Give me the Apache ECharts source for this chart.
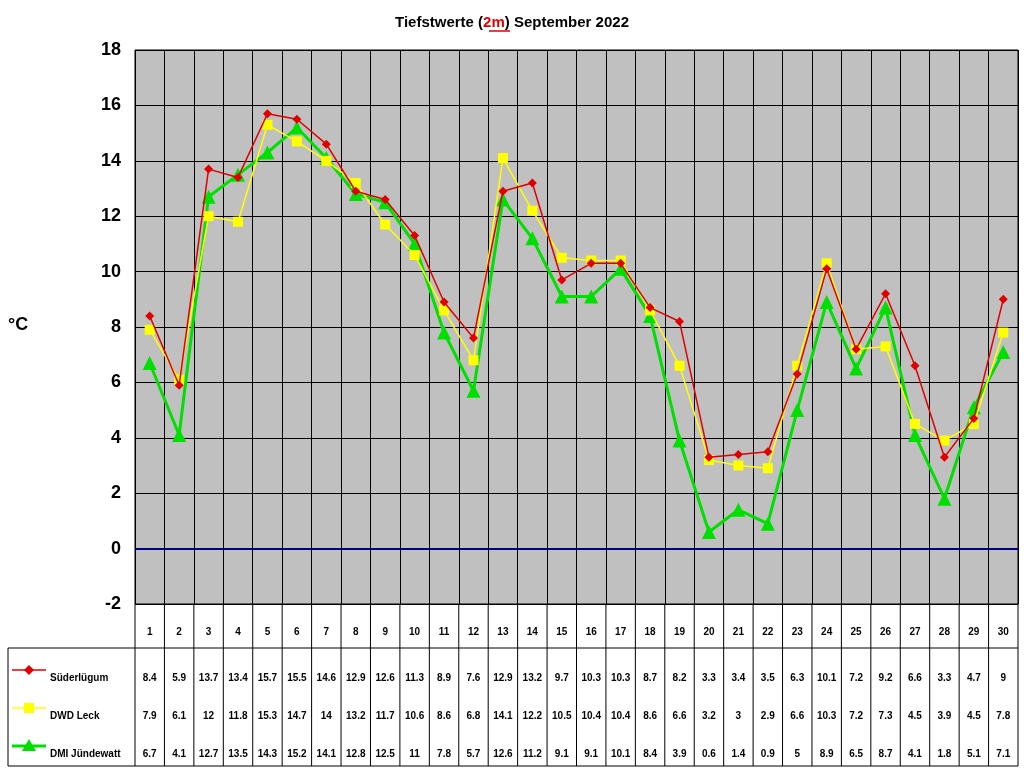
<!DOCTYPE html><html><head><meta charset="utf-8"><script src="https://cdn.jsdelivr.net/npm/echarts@6/dist/echarts.min.js"></script>
<style>body{margin:0;background:#fff}#c{width:1024px;height:768px}</style></head><body><div id="c"></div><script>
const days=[];for(let i=1;i<=30;i++)days.push(String(i));
const suederluegum=[8.4,5.9,13.7,13.4,15.7,15.5,14.6,12.9,12.6,11.3,8.9,7.6,12.9,13.2,9.7,10.3,10.3,8.7,8.2,3.3,3.4,3.5,6.3,10.1,7.2,9.2,6.6,3.3,4.7,9];
const dwdLeck=[7.9,6.1,12,11.8,15.3,14.7,14,13.2,11.7,10.6,8.6,6.8,14.1,12.2,10.5,10.4,10.4,8.6,6.6,3.2,3,2.9,6.6,10.3,7.2,7.3,4.5,3.9,4.5,7.8];
const dmiJuendewatt=[6.7,4.1,12.7,13.5,14.3,15.2,14.1,12.8,12.5,11,7.8,5.7,12.6,11.2,9.1,9.1,10.1,8.4,3.9,0.6,1.4,0.9,5,8.9,6.5,8.7,4.1,1.8,5.1,7.1];
const names=['Süderlügum','DWD Leck','DMI Jündewatt'];
const colors=['#E00000','#FFFF00','#00E000'];
const symbols=['diamond','rect','triangle'];
const sizes=[9,10,14];
const all=[suederluegum,dwdLeck,dmiJuendewatt];
const chart=echarts.init(document.getElementById('c'));
const L=135,R=1018,T=50,B=604;
chart.setOption({
 animation:false,
 title:{text:'{a|Tiefstwerte (}{b|2m}{a|) September 2022}',left:'center',top:10,textStyle:{rich:{a:{fontSize:15,fontWeight:'bold',fontFamily:'Liberation Sans',color:'#000'},b:{fontSize:15,fontWeight:'bold',fontFamily:'Liberation Sans',color:'#E00000'}}}},
 grid:{left:L,right:1024-R,top:T,bottom:768-B,backgroundColor:'#C0C0C0',show:true,borderColor:'#000',borderWidth:1},
 xAxis:{type:'category',data:days,boundaryGap:true,axisLabel:{show:false},axisTick:{show:false},axisLine:{show:false},splitLine:{show:true,lineStyle:{color:'#000',width:1}}},
 yAxis:{type:'value',min:-2,max:18,interval:2,axisLabel:{fontSize:18,fontWeight:'bold',color:'#000',fontFamily:'Liberation Sans',margin:14},axisLine:{show:false},axisTick:{show:false},splitLine:{lineStyle:{color:'#000',width:1}}},
 series:all.map((d,i)=>({name:names[i],type:'line',data:d,symbol:symbols[i],symbolSize:sizes[i],lineStyle:{color:colors[i],width:i==2?3:1.5},itemStyle:{color:colors[i]},z:3-i+2,
   markLine:i==0?{silent:true,symbol:'none',label:{show:false},lineStyle:{color:'#000080',width:2,type:'solid'},data:[{yAxis:0}]}:undefined}))
});
const g=[];
g.push({type:'text',left:8,top:316,style:{text:'°C',fontSize:18,fontWeight:'bold',fontFamily:'Liberation Sans',fill:'#000'}});
g.push({type:'line',shape:{x1:489,y1:31,x2:510,y2:31},style:{stroke:'#E00000',lineWidth:1.5}});
const cw=(R-L)/30;
const rowsY=[678,716,754];
for(let k=0;k<=30;k++){const x=L+k*cw;g.push({type:'line',shape:{x1:x,y1:B,x2:x,y2:766},style:{stroke:'#000',lineWidth:1}});}
g.push({type:'line',shape:{x1:8,y1:648,x2:R,y2:648},style:{stroke:'#000'}});
g.push({type:'line',shape:{x1:8,y1:766,x2:R,y2:766},style:{stroke:'#000'}});
g.push({type:'line',shape:{x1:8,y1:648,x2:8,y2:766},style:{stroke:'#000'}});
days.forEach((d,k)=>{const x=chart.convertToPixel({xAxisIndex:0},d);
 g.push({type:'text',x:x,y:632,style:{text:d,fontSize:10,fontWeight:'bold',fontFamily:'Liberation Sans',align:'center',verticalAlign:'middle',fill:'#000'}});
 all.forEach((arr,i)=>g.push({type:'text',x:x,y:rowsY[i],style:{text:String(arr[k]),fontSize:10,fontWeight:'bold',fontFamily:'Liberation Sans',align:'center',verticalAlign:'middle',fill:'#000'}}));
});
names.forEach((n,i)=>{const y=rowsY[i]-8;
 g.push({type:'line',shape:{x1:12,y1:y,x2:46,y2:y},style:{stroke:colors[i],lineWidth:i==2?3:1.5}});
 const s=echarts.graphic;
 g.push({type:symbols[i]=='rect'?'rect':'polygon',shape:symbols[i]=='rect'?{x:24,y:y-5,width:10,height:10}:{points:symbols[i]=='diamond'?[[29,y-5],[34,y],[29,y+5],[24,y]]:[[29,y-7],[36,y+5],[22,y+5]]},style:{fill:colors[i]}});
 g.push({type:'text',x:50,y:rowsY[i],style:{text:n,fontSize:10,fontWeight:'bold',fontFamily:'Liberation Sans',verticalAlign:'middle',fill:'#000'}});
});
chart.setOption({graphic:g});
</script></body></html>
